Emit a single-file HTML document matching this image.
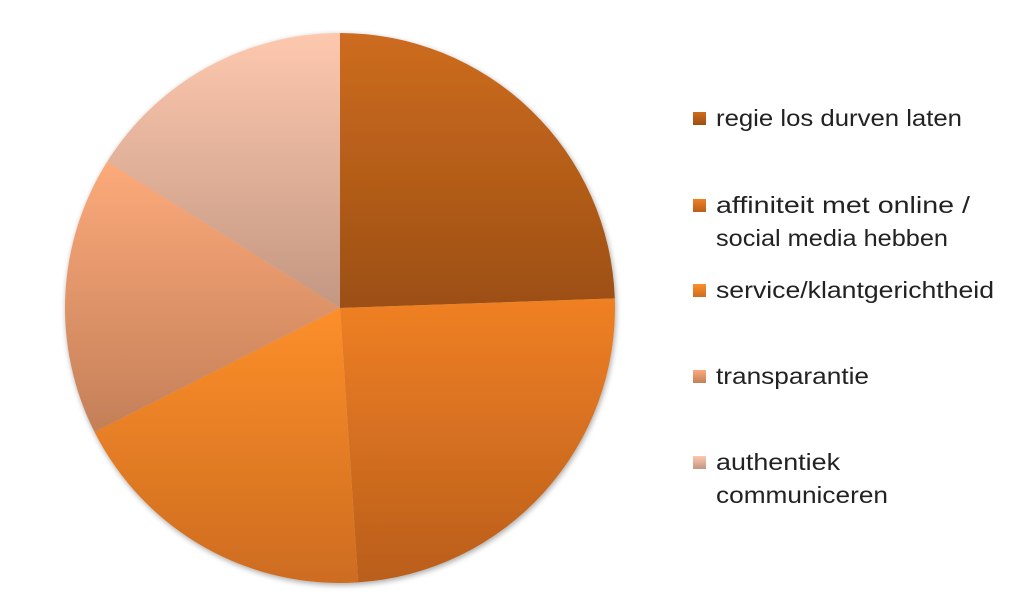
<!DOCTYPE html>
<html><head><meta charset="utf-8"><style>
html,body{margin:0;padding:0;background:#fff;}
svg{display:block;}
text{font-family:"Liberation Sans",sans-serif;font-size:23px;fill:#222;}
</style></head><body>
<svg width="1024" height="615" viewBox="0 0 1024 615" xmlns="http://www.w3.org/2000/svg">
<defs>
<linearGradient id="g1" x1="0" y1="0" x2="0" y2="1"><stop offset="0" stop-color="#cd6c20"/><stop offset="1" stop-color="#9c4f12"/></linearGradient>
<linearGradient id="g2" x1="0" y1="0" x2="0" y2="1"><stop offset="0" stop-color="#f08024"/><stop offset="1" stop-color="#b95e1c"/></linearGradient>
<linearGradient id="g3" x1="0" y1="0" x2="0" y2="1"><stop offset="0" stop-color="#fd8f2a"/><stop offset="1" stop-color="#cd6c20"/></linearGradient>
<linearGradient id="g4" x1="0" y1="0" x2="0" y2="1"><stop offset="0" stop-color="#fcaa7a"/><stop offset="1" stop-color="#c47f58"/></linearGradient>
<linearGradient id="g5" x1="0" y1="0" x2="0" y2="1"><stop offset="0" stop-color="#fdc8ae"/><stop offset="1" stop-color="#c39782"/></linearGradient>
<filter id="sh" x="-10%" y="-10%" width="120%" height="120%"><feGaussianBlur in="SourceAlpha" stdDeviation="3"/><feOffset dx="1" dy="2"/><feComponentTransfer><feFuncA type="linear" slope="0.35"/></feComponentTransfer><feMerge><feMergeNode/><feMergeNode in="SourceGraphic"/></feMerge></filter>
</defs>
<g filter="url(#sh)">
<path d="M340,308 L340,33 A275,275 0 0 1 614.8,298.4 Z" fill="url(#g1)"/>
<path d="M340,308 L614.8,298.4 A275,275 0 0 1 358.2,582.4 Z" fill="url(#g2)"/>
<path d="M340,308 L358.2,582.4 A275,275 0 0 1 94.5,432 Z" fill="url(#g3)"/>
<path d="M340,308 L94.5,432 A275,275 0 0 1 107.3,161.5 Z" fill="url(#g4)"/>
<path d="M340,308 L107.3,161.5 A275,275 0 0 1 340,33 Z" fill="url(#g5)"/>
</g>
<rect x="693" y="112" width="13" height="13" fill="url(#g1)"/>
<rect x="693" y="199" width="13" height="13" fill="url(#g2)"/>
<rect x="693" y="284" width="13" height="13" fill="url(#g3)"/>
<rect x="693" y="370" width="13" height="13" fill="url(#g4)"/>
<rect x="693" y="456" width="13" height="13" fill="url(#g5)"/>
<text x="716" y="126" textLength="246" lengthAdjust="spacingAndGlyphs">regie los durven laten</text>
<text x="716" y="213" textLength="254" lengthAdjust="spacingAndGlyphs">affiniteit met online /</text>
<text x="716" y="246" textLength="232" lengthAdjust="spacingAndGlyphs">social media hebben</text>
<text x="716" y="298" textLength="278" lengthAdjust="spacingAndGlyphs">service/klantgerichtheid</text>
<text x="716" y="384" textLength="153" lengthAdjust="spacingAndGlyphs">transparantie</text>
<text x="716" y="470" textLength="124" lengthAdjust="spacingAndGlyphs">authentiek</text>
<text x="716" y="503" textLength="172" lengthAdjust="spacingAndGlyphs">communiceren</text>
</svg>
</body></html>
